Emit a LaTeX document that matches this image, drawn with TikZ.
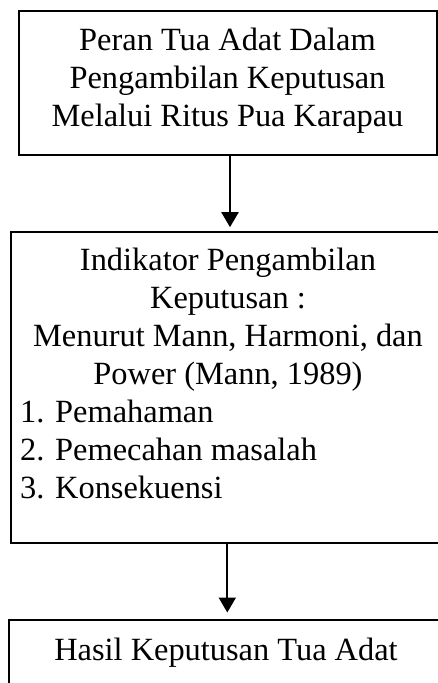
\documentclass[tikz,border=0pt]{standalone}
\usepackage{fontspec}
\setmainfont{Liberation Serif}
\usetikzlibrary{positioning,arrows.meta}

\tikzset{
    box/.style={draw, line width=2pt, inner sep=0pt},
    teks/.style={inner sep=0pt, anchor=base},
    panah/.style={line width=2pt, -{Triangle[length=15pt, width=17pt]}},
}

\begin{document}
\begin{tikzpicture}[x=1pt, y=-1pt, font=\fontsize{32.4}{38}\selectfont]

        \useasboundingbox (0, 0) rectangle (438, 683);

        \draw (227.5, 82.5) node[box, minimum width=418pt, minimum height=144pt] (peran) {};
        \draw (228, 387.5) node[box, minimum width=434.6pt, minimum height=311.6pt] (indikator) {};
        \draw (228, 680) node[box, minimum width=438.6pt, minimum height=121pt] (hasil) {};

        \node[teks] (teksperan) at (227.5, 50) {\begin{tabular}[t]{@{}c@{}}Peran Tua Adat Dalam\\ Pengambilan Keputusan\\ Melalui Ritus Pua Karapau\end{tabular}};
        \node[teks] (teksindikator) at (228, 270) {\begin{tabular}[t]{@{}c@{}}Indikator Pengambilan\\ Keputusan :\\ Menurut Mann, Harmoni, dan\\ Power (Mann, 1989)\end{tabular}};
        \node[teks, anchor=base west] (daftar) at (20, 422) {\begin{tabular}[t]{@{}p{35pt}@{}l@{}}1. & Pemahaman\\ 2. & Pemecahan masalah\\ 3. & Konsekuensi\end{tabular}};
        \node[teks] (tekshasil) at (226, 660) {Hasil Keputusan Tua Adat};

        \draw[panah, shorten >=3.5pt] ([xshift=2.5pt]peran.south) -- ([xshift=2.5pt]peran.south |- indikator.north);
        \draw[panah, shorten >=6pt] ([xshift=-0.7pt]indikator.south) -- ([xshift=-0.7pt]indikator.south |- hasil.north);

\end{tikzpicture}
\end{document}
